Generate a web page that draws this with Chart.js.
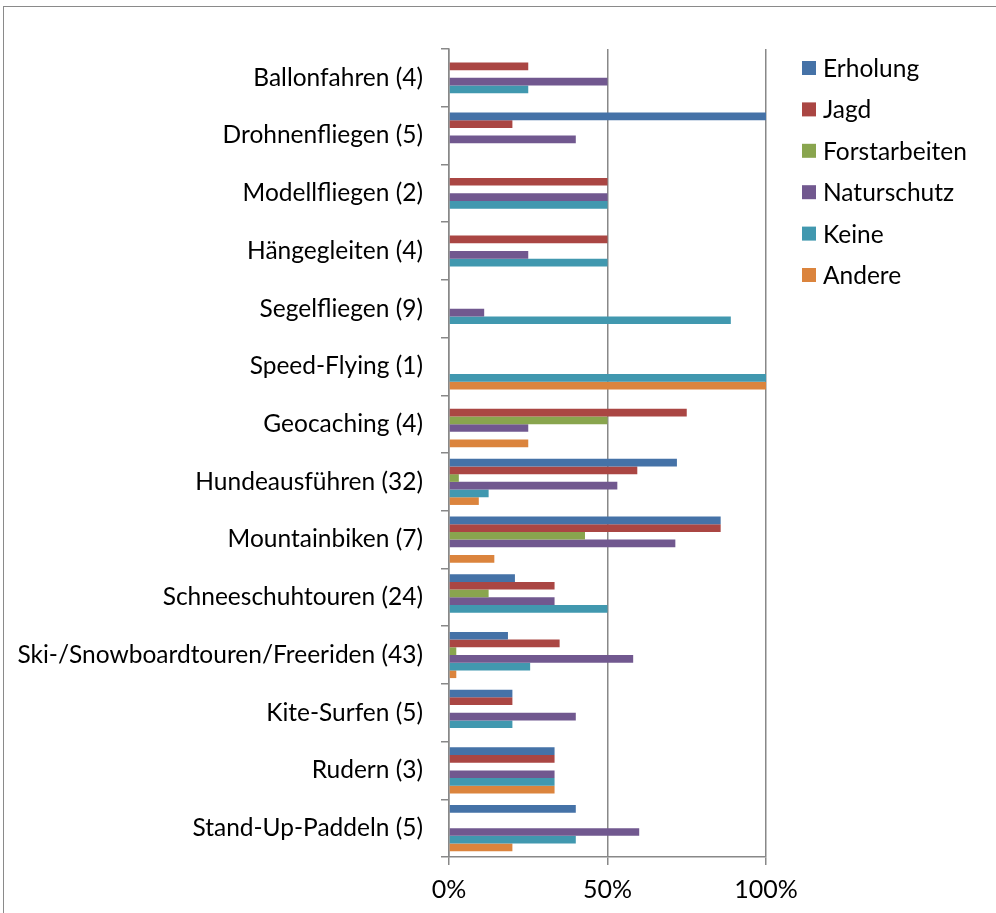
<!DOCTYPE html>
<html>
<head>
<meta charset="utf-8">
<style>
    html, body { margin: 0; padding: 0; overflow: hidden; background: #fff; }
    #frame { position: absolute; left: 3px; top: 6px; width: 1100px; height: 1000px; border: 1.5px solid #8a8a8a; }
    #wrap { position: absolute; left: 0; top: 0; width: 996px; height: 913px; }
</style>
</head>
<body>
<div id="frame"></div>
<div id="wrap">
    <canvas id="myChart" width="996" height="913"></canvas>
</div>

<script src="https://cdn.jsdelivr.net/npm/chart.js"></script>
<script>
    // Kategorien von oben nach unten
    const categories = ['Ballonfahren (4)', 'Drohnenfliegen (5)', 'Modellfliegen (2)', 'Hängegleiten (4)',
        'Segelfliegen (9)', 'Speed-Flying (1)', 'Geocaching (4)', 'Hundeausführen (32)', 'Mountainbiken (7)',
        'Schneeschuhtouren (24)', 'Ski-/Snowboardtouren/Freeriden (43)', 'Kite-Surfen (5)', 'Rudern (3)',
        'Stand-Up-Paddeln (5)'];

    const seriesNames = ['Erholung', 'Jagd', 'Forstarbeiten', 'Naturschutz', 'Keine', 'Andere'];
    const seriesColors = ['#4572A7', '#AA4643', '#89A54E', '#71588F', '#4198AF', '#DB843D'];

    // Anteile in %
    const erholung = [0, 100, 0, 0, 0, 0, 0, 71.9, 85.7, 20.8, 18.6, 20, 33.3, 40];
    const jagd = [25, 20, 50, 50, 0, 0, 75, 59.4, 85.7, 33.3, 34.9, 20, 33.3, 0];
    const forstarbeiten = [0, 0, 0, 0, 0, 0, 50, 3.1, 42.9, 12.5, 2.3, 0, 0, 0];
    const naturschutz = [50, 40, 50, 25, 11.1, 0, 25, 53.1, 71.4, 33.3, 58.1, 40, 33.3, 60];
    const keine = [25, 0, 50, 50, 88.9, 100, 0, 12.5, 0, 50, 25.6, 20, 33.3, 40];
    const andere = [0, 0, 0, 0, 0, 100, 25, 9.4, 14.3, 0, 2.3, 0, 33.3, 20];

    const xTicks = [0, 50, 100];

    const seriesData = [erholung, jagd, forstarbeiten, naturschutz, keine, andere];
    const FONT = 'Lato';
    const gridColor = '#888888';

    // Legende rechts, wie in Excel
    const sideLegend = {
        id: 'sideLegend',
        afterDraw(chart) {
            const ctx = chart.ctx;
            const area = chart.chartArea;
            ctx.save();
            ctx.font = '24.5px ' + FONT;
            ctx.textBaseline = 'middle';
            ctx.textAlign = 'left';
            chart.data.datasets.forEach(function (ds, i) {
                const y = area.top + 19 + i * 41.4;
                ctx.fillStyle = ds.backgroundColor;
                ctx.fillRect(area.right + 36, y - 7, 14, 14);
                ctx.fillStyle = '#000';
                ctx.fillText(ds.label, area.right + 57, y + 1);
            });
            ctx.restore();
        }
    };

    const ctx = document.getElementById('myChart');

    new Chart(ctx, {
        type: 'bar',
        data: {
            labels: categories,
            datasets: seriesNames.map(function (name, i) {
                return {
                    label: name,
                    data: seriesData[i],
                    backgroundColor: seriesColors[i],
                    borderWidth: 0,
                    barPercentage: 1,
                    categoryPercentage: 0.8
                };
            })
        },
        options: {
            indexAxis: 'y',
            responsive: false,
            animation: false,
            layout: {
                padding: { top: 49, right: 230, bottom: 0, left: 0 }
            },
            scales: {
                x: {
                    type: 'linear',
                    min: 0,
                    max: 100,
                    afterBuildTicks: function (scale) {
                        scale.ticks = xTicks.map(function (v) { return { value: v }; });
                    },
                    afterFit: function (scale) { scale.height = 56; },
                    ticks: {
                        callback: function (v) { return v + '%'; },
                        font: { family: FONT, size: 25 },
                        color: '#000',
                        padding: 10
                    },
                    grid: { color: gridColor, lineWidth: 1.5, tickLength: 8 },
                    border: { color: gridColor, width: 1.5 }
                },
                y: {
                    afterFit: function (scale) { scale.width = 449; },
                    ticks: {
                        font: { family: FONT, size: 24.5 },
                        color: '#000',
                        padding: 18,
                        autoSkip: false
                    },
                    grid: { drawOnChartArea: false, color: gridColor, lineWidth: 1.5, tickLength: 8, offset: true },
                    border: { color: gridColor, width: 1.5 }
                }
            },
            plugins: {
                legend: { display: false },
                tooltip: { enabled: false }
            }
        },
        plugins: [sideLegend]
    });
</script>
</body>
</html>
